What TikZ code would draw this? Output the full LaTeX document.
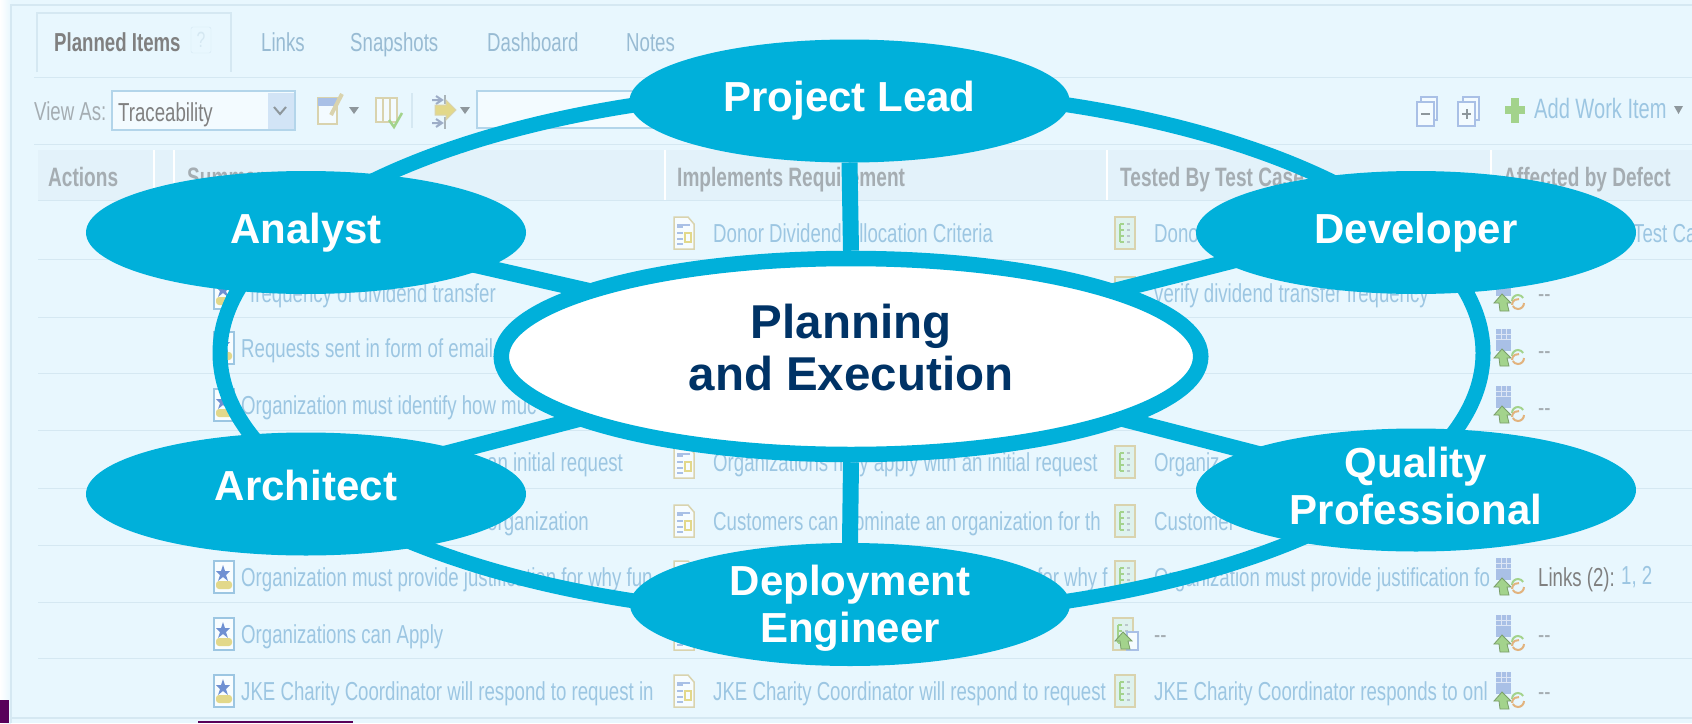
\documentclass[tikz,border=0pt]{standalone}
\usepackage{fontspec}
\setmainfont{Liberation Sans}
\newfontfamily\shotface[FakeStretch=0.717]{Liberation Sans}
\usetikzlibrary{shapes.geometric,backgrounds}
\definecolor{roleblue}{HTML}{00B0DA}
\definecolor{navytext}{HTML}{003366}
\definecolor{shotbg}{HTML}{E8F7FE}
\definecolor{headbg}{HTML}{E3F2FA}
\definecolor{shotline}{HTML}{D5E8F2}
\definecolor{linkblue}{HTML}{9CC6E2}
\definecolor{headgray}{HTML}{A5ADB2}
\definecolor{tanicon}{HTML}{D9D3AE}
\definecolor{softgreen}{HTML}{A3D38C}
\definecolor{softblue}{HTML}{A9C0E6}
\definecolor{softstar}{HTML}{6F90D2}
\definecolor{softyellow}{HTML}{E2D88A}
\definecolor{softorange}{HTML}{E2B37E}
\definecolor{softgray}{HTML}{8E979C}
\newcommand{\dropdepth}[1]{\rule[-#1]{0pt}{#1}}
\tikzset{
    reqicon/.pic={
        \draw[draw=linkblue, fill=white!70!shotbg, line width=1.5pt] (-10,-16) rectangle (10,16);
        \fill[softstar] (-1,-12) -- (1,-6) -- (6,-6) -- (2,-2) -- (4,4) -- (-1,0) -- (-6,4) -- (-4,-2) -- (-8,-6) -- (-3,-6) -- cycle;
        \fill[softyellow, rounded corners=3pt] (-8,4) rectangle (8,12);
    },
    docicon/.pic={
        \draw[draw=tanicon, fill=white!60!shotbg, line width=1.5pt] (-10,-16) -- (4,-16) -- (10,-9) -- (10,16) -- (-10,16) -- cycle;
        \foreach \yy in {-6,0,6,11} \draw[softblue, line width=1.3pt] (-7,\yy) -- (-1,\yy);
        \draw[softblue, line width=1.5pt] (-7,-8) -- (6,-8);
        \draw[softyellow, line width=1.5pt] (1,0) rectangle (7,9);
    },
    testicon/.pic={
        \draw[draw=tanicon, fill=softgreen!15!shotbg, line width=2pt] (-10,-16) rectangle (10,16);
        \foreach \yy in {-9,-3,3,9} {
            \draw[softgreen, line width=1.5pt] (-5,\yy) -- (-1,\yy);
            \draw[softgray!50!shotbg, line width=1.5pt] (2,\yy) -- (5,\yy);
        }
        \draw[softgreen, line width=1.5pt] (-5,-9) -- (-5,9);
    },
    defecticon/.pic={
        \fill[softblue] (-13,-19) rectangle (2,3);
        \foreach \yy in {-14,-9} \draw[white!60!softblue, line width=1pt] (-13,\yy) -- (2,\yy);
        \foreach \xx in {-8,-3} \draw[white!60!softblue, line width=1pt] (\xx,-19) -- (\xx,-9);
        \fill[softgreen, draw=softgreen!75!black, line width=.8pt] (-7,1) -- (2,10) -- (-2,10) -- (0,18) -- (-9,18) -- (-10,10) -- (-15,10) -- cycle;
        \draw[softgreen, line width=2pt] (3,8) arc (180:330:6);
        \draw[softorange, line width=2pt] (15,10) arc (0:150:6);
        \draw[softorange, line width=2pt] (3,12) arc (180:280:6);
    }
}
\begin{document}
\begin{tikzpicture}[
        x=1pt, y=-1pt,
        rolenode/.style={ellipse, fill=roleblue, text=white, minimum width=440pt, minimum height=123pt,
            inner sep=0pt, outer sep=0pt, align=center, font=\fontsize{42}{47}\selectfont\bfseries},
        centernode/.style={ellipse, draw=roleblue, fill=white, line width=15.5pt, text=navytext,
            minimum width=699.5pt, minimum height=196pt, inner sep=0pt, align=center,
            font=\fontsize{47.5}{52}\selectfont\bfseries},
        ringnode/.style={ellipse, draw=roleblue, line width=15pt, minimum width=1263pt, minimum height=528pt, inner sep=0pt},
        spoke/.style={draw=roleblue, line width=16pt, shorten >=-40pt, shorten <=-40pt},
        linktext/.style={anchor=base west, inner sep=0pt, text=linkblue, font=\shotface\fontsize{26}{30}\selectfont},
        graytext/.style={linktext, text=headgray},
        headtext/.style={linktext, text=headgray, font=\shotface\fontsize{26.6}{30}\selectfont\bfseries},
        tabtext/.style={linktext, text=linkblue!85!gray},
        rowline/.style={draw=shotline, line width=1pt},
        fieldbox/.style={draw=linkblue!70!shotbg, line width=1.5pt, fill=white!50!shotbg},
        toolicon/.style={draw=tanicon, fill=white!50!shotbg, line width=2pt},
        pageicon/.style={draw=softblue, fill=white!50!shotbg, line width=1.5pt},
        droptip/.style={fill=softgray}
    ]
    \useasboundingbox (0,0) rectangle (1692,723);

    % roles and the middle
    \node[centernode] (central) at (851,356.5) {Planning\\and Execution\dropdepth{18pt}};
    \node[rolenode] (lead) at (849.5,101) {Project Lead};
    \node[rolenode] (analyst) at (306,232.5) {Analyst};
    \node[rolenode] (developer) at (1416,232.5) {Developer};
    \node[rolenode] (architect) at (306,494) {Architect\dropdepth{17pt}};
    \node[rolenode] (quality) at (1416,490) {Quality\\Professional\dropdepth{9pt}};
    \node[rolenode, inner ysep=-8pt] (deploy) at (850,604.5) {\rule{0pt}{38pt}Deployment\\Engineer};

    \begin{pgfonlayer}{background}
        % faded screenshot
        \fill[shotbg] (0,0) rectangle (1692,723);
        \shade[left color=white, right color=shotbg] (0,0) rectangle (11,723);
        \draw[shotline, line width=1.5pt] (11,723) -- (11,5) -- (1692,5);
        \draw[shotline, line width=1.5pt] (11,718) -- (1692,718);
        \fill[violet!70!black] (0,700) rectangle (9,723);
        \fill[violet!70!black] (198,721) rectangle (353,723);
        \draw[shotline, line width=1.5pt] (37,72) -- (37,13) -- (231,13) -- (231,72);
        \draw[rowline] (34,77) -- (1692,77);
        \draw[rowline] (34,144) -- (1692,144);
        \fill[headbg] (38,150) rectangle (1692,200);
        \foreach \xx in {154,174,665,1107,1491} \draw[white, line width=1.5pt] (\xx,150) -- (\xx,200);
        \foreach \yy in {200,259,317,373,430,488,545,602,658} \draw[rowline] (38,\yy) -- (1692,\yy);

        % tabs and toolbar
        \node[linktext, text=gray, font=\shotface\fontsize{26}{30}\selectfont\bfseries] (tabplanned) at (54,51) {Planned Items};
        \node[draw=shotline, rounded corners=2pt, text=shotline, inner sep=1pt, minimum width=20pt, minimum height=26pt, font=\shotface\fontsize{22}{26}\selectfont] (tabhelp) at (201,40) {?};
        \node[tabtext] (tablinks) at (261,51) {Links};
        \node[tabtext] (tabsnap) at (350,51) {Snapshots};
        \node[tabtext] (tabdash) at (487,51) {Dashboard};
        \node[tabtext] (tabnotes) at (626,51) {Notes};
        \node[graytext] (viewas) at (34,120) {View As:};
        \draw[fieldbox] (112,91) rectangle (295,130);
        \fill[softblue!35!shotbg] (268,93) rectangle (294,129);
        \draw[softgray, line width=2pt] (274,107) -- (280,114) -- (286,107);
        \node[linktext, text=gray] (viewvalue) at (118,121) {Traceability};
        \draw[fieldbox] (477,91) rectangle (680,128);
        \draw[toolicon] (318,98) rectangle (337,124);
        \fill[softblue] (318,98) rectangle (337,106);
        \draw[tanicon, line width=4pt] (331,115) -- (342,94);
        \fill[droptip] (349,107) -- (359,107) -- (354,114) -- cycle;
        \draw[toolicon] (376,98) rectangle (397,122);
        \draw[tanicon, line width=2pt] (383,98) -- (383,122) (390,98) -- (390,122);
        \draw[softgreen, line width=2.5pt] (389,120) -- (394,127) -- (402,113);
        \draw[shotline, line width=1.5pt] (412,93) -- (412,128);
        \draw[softgray!70!shotbg, line width=1.5pt] (445,95) -- (445,104) (445,117) -- (445,129);
        \draw[softblue!70!gray, line width=2pt] (432,100) -- (442,100) (436,96) -- (442,100) -- (436,104);
        \draw[softblue!70!gray, line width=2pt] (432,123) -- (442,123) (436,119) -- (442,123) -- (436,127);
        \fill[softyellow, draw=tanicon, line width=1pt] (435,105) -- (446,105) -- (446,100) -- (456,110) -- (446,120) -- (446,115) -- (435,115) -- cycle;
        \fill[droptip] (460,107) -- (470,107) -- (465,114) -- cycle;
        \draw[pageicon] (1421,97) rectangle (1437,120);
        \draw[pageicon] (1417,102) rectangle (1434,126);
        \draw[softgray, line width=2pt] (1421,114) -- (1430,114);
        \draw[pageicon] (1463,97) rectangle (1479,120);
        \draw[pageicon] (1458,102) rectangle (1475,126);
        \draw[softgray, line width=2pt] (1462,114) -- (1471,114) (1466.5,109) -- (1466.5,119);
        \draw[softgreen, line width=8pt] (1515,98) -- (1515,123) (1505,110) -- (1525,110);
        \node[linktext, font=\shotface\fontsize{28}{30}\selectfont] (addwork) at (1534,118) {Add Work Item};
        \fill[droptip] (1674,106) -- (1683,106) -- (1678.5,114) -- cycle;

        % table head
        \node[headtext] (headact) at (48,186) {Actions};
        \node[headtext] (headsum) at (187,186) {Summary};
        \node[headtext] (headimp) at (677,186) {Implements Requirement};
        \node[headtext] (headtest) at (1120,186) {Tested By Test Case};
        \node[headtext] (headdef) at (1503,186) {Affected by Defect};

        % table rows
        \foreach \nam/\xx/\yy/\txt in {
            suma/250/302/frequency of dividend transfer,
            sumb/241/357/Requests sent in form of email,
            sumc/241/414/Organization must identify how muc,
            sumd/487/471/an initial request,
            sume/487/530/organization,
            sumf/241/586/Organization must provide justification for why fun,
            sumg/241/643/Organizations can Apply,
            sumh/241/700/JKE Charity Coordinator will respond to request in,
            impa/713/242/Donor Dividend Allocation Criteria,
            impb/713/471/Organizations may apply with an initial request,
            impc/713/530/Customers can nominate an organization for th,
            impd/1037/586/for why f,
            impe/713/700/JKE Charity Coordinator will respond to request,
            tesa/1154/242/Donor,
            tesb/1154/302/verify dividend transfer frequency,
            tesc/1154/471/Organiz,
            tesd/1154/530/Customer,
            tese/1154/586/Organization must provide justification fo,
            tesf/1154/700/JKE Charity Coordinator responds to onl,
            defa/1633/242/Test Ca}
            \node[linktext] (\nam) at (\xx,\yy) {\txt};
        \foreach \nam/\xx/\yy in {dasha/1154/643, dashb/1538/302, dashc/1538/359, dashd/1538/416, dashe/1538/643, dashf/1538/700}
            \node[graytext] (\nam) at (\xx,\yy) {--};
        \node[graytext, text=gray] (linkcount) at (1538,586) {Links (2):};
        \node[linktext] (linknums) at (1621,584) {1, 2};

        \foreach \yy in {293,348,405,577,634,691} \pic at (224,\yy) {reqicon};
        \foreach \yy in {233,462,521,577,634,691} \pic at (684,\yy) {docicon};
        \foreach \yy in {233,293,462,521,577,691} \pic at (1125,\yy) {testicon};
        \pic at (1123,634) {testicon};
        \draw[softblue, fill=white!60!shotbg, line width=1.5pt] (1127,632) rectangle (1138,650);
        \fill[softgreen, draw=softgreen!75!black, line width=.8pt] (1123,632) -- (1132,641) -- (1128,641) -- (1130,649) -- (1121,649) -- (1120,641) -- (1115,641) -- cycle;
        \foreach \yy in {293,348,405,577,634,691} \pic at (1509,\yy) {defecticon};

        % ring and spokes
        \node[ringnode] (ring) at (851.5,353) {};
        \draw[spoke, shorten >=0pt, shorten <=0pt] (lead.south) -- (central.north);
        \draw[spoke, shorten >=0pt, shorten <=0pt] (deploy.north) -- (central.south);
        \draw[spoke] (analyst.-11) -- (central.166);
        \draw[spoke] (developer.189.5) -- (central.14);
        \draw[spoke] (quality.167) -- (central.-13.5);
        \draw[spoke] (architect.16) -- (central.193.5);
    \end{pgfonlayer}
\end{tikzpicture}
\end{document}
